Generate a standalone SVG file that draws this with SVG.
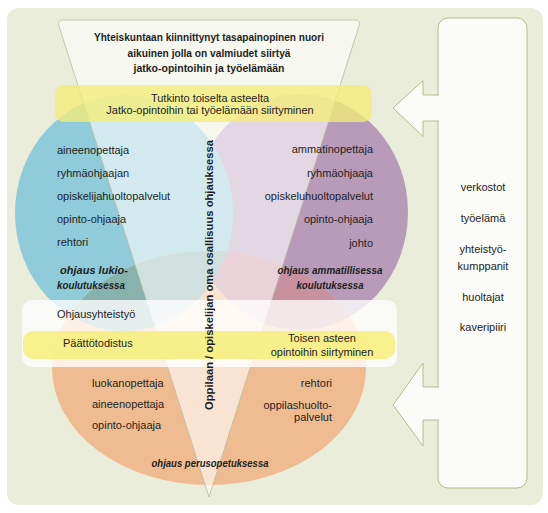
<svg xmlns="http://www.w3.org/2000/svg" width="548" height="513" viewBox="0 0 548 513">
<defs>
<style>
.t{font-family:"Liberation Sans",Arial,sans-serif;font-size:11px;fill:#1e1e1e}
.b{font-weight:bold}
.bi{font-weight:bold;font-style:italic;font-size:10.5px}
.m{text-anchor:middle}
.e{text-anchor:end}
.pn{fill:#fbfbf8;stroke:#b4bd8a;stroke-width:1}
</style>
<clipPath id="co"><ellipse cx="209" cy="368" rx="157" ry="117"/></clipPath>
</defs>
<rect x="7" y="8" width="536" height="497" rx="12" fill="#e9edda"/>
<g id="backdrop">
<ellipse cx="300" cy="212" rx="108" ry="118" fill="#b89bb9"/>
<ellipse cx="124" cy="213" rx="109" ry="118" fill="#8fcbd8"/>
<ellipse cx="209" cy="368" rx="157" ry="117" fill="#efbc91"/>
<g clip-path="url(#co)">
<ellipse cx="300" cy="212" rx="108" ry="118" fill="#c8919f"/>
<ellipse cx="124" cy="213" rx="109" ry="118" fill="#88b2ae"/>
</g>
<path d="M63,20 H355 Q361,20 359,26 L209,497 L59,26 Q57,20 63,20 Z" fill="#fff" fill-opacity="0.6" stroke="#b9bd9f" stroke-width="0.8"/>
</g>
<g id="goal">
<text class="t b m" x="209" y="41" textLength="230" lengthAdjust="spacingAndGlyphs">Yhteiskuntaan kiinnittynyt tasapainopinen nuori</text>
<text class="t b m" x="209" y="57" textLength="163" lengthAdjust="spacingAndGlyphs">aikuinen jolla on valmiudet siirtyä</text>
<text class="t b m" x="209" y="72" textLength="151" lengthAdjust="spacingAndGlyphs">jatko-opintoihin ja työelämään</text>
</g>
<g id="tutkinto">
<rect x="55" y="85" width="317" height="37" rx="9" fill="#f4ec78" fill-opacity="0.78"/>
<text class="t m" x="210" y="102">Tutkinto toiselta asteelta</text>
<text class="t m" x="210" y="114">Jatko-opintoihin tai työelämään siirtyminen</text>
</g>
<g id="ohjausyhteistyo">
<rect x="22" y="300" width="375" height="67" rx="10" fill="#fff" fill-opacity="0.78"/>
<rect x="23" y="331" width="372" height="28" rx="10" fill="#f6ee7e" fill-opacity="0.9"/>
<text class="t" x="57" y="318">Ohjausyhteistyö</text>
<text class="t" x="63" y="347">Päättötodistus</text>
<text class="t m" x="322" y="342">Toisen asteen</text>
<text class="t m" x="322" y="356">opintoihin siirtyminen</text>
</g>
<g id="lukio">
<text class="t" x="57" y="154">aineenopettaja</text>
<text class="t" x="57" y="177">ryhmäohjaajan</text>
<text class="t" x="57" y="200">opiskelijahuoltopalvelut</text>
<text class="t" x="57" y="223">opinto-ohjaaja</text>
<text class="t" x="57" y="246">rehtori</text>
<text class="t bi" x="60" y="274" textLength="68" lengthAdjust="spacingAndGlyphs">ohjaus lukio-</text>
<text class="t bi" x="57" y="289" textLength="68" lengthAdjust="spacingAndGlyphs">koulutuksessa</text>
</g>
<g id="ammatillinen">
<text class="t e" x="373" y="153">ammatinopettaja</text>
<text class="t e" x="373" y="177">ryhmäohjaaja</text>
<text class="t e" x="373" y="200">opiskeluhuoltopalvelut</text>
<text class="t e" x="373" y="223">opinto-ohjaaja</text>
<text class="t e" x="373" y="247">johto</text>
<text class="t bi m" x="330" y="274" textLength="105" lengthAdjust="spacingAndGlyphs">ohjaus ammatillisessa</text>
<text class="t bi m" x="330" y="289" textLength="67" lengthAdjust="spacingAndGlyphs">koulutuksessa</text>
</g>
<g id="perusopetus">
<text class="t" x="92" y="387">luokanopettaja</text>
<text class="t" x="92" y="408">aineenopettaja</text>
<text class="t" x="92" y="429">opinto-ohjaaja</text>
<text class="t e" x="332" y="387">rehtori</text>
<text class="t e" x="332" y="409">oppilashuolto-</text>
<text class="t e" x="332" y="421">palvelut</text>
<text class="t bi m" x="210" y="467" textLength="117" lengthAdjust="spacingAndGlyphs">ohjaus perusopetuksessa</text>
</g>
<g id="osallisuus">
<text class="t b m" transform="translate(213,275) rotate(-90)" textLength="270" lengthAdjust="spacingAndGlyphs">Oppilaan / opiskelijan oma osallisuus ohjauksessa</text>
</g>
<g id="verkostot">
<rect class="pn" x="438" y="18" width="89" height="470" rx="10"/>
<text class="t m" x="483" y="191">verkostot</text>
<text class="t m" x="483" y="222">työelämä</text>
<text class="t m" x="483" y="253">yhteistyö-</text>
<text class="t m" x="483" y="270">kumppanit</text>
<text class="t m" x="483" y="301">huoltajat</text>
<text class="t m" x="483" y="331">kaveripiiri</text>
</g>
<g id="connectors">
<path class="pn" d="M439,95 H423 V80.5 L393,108 L423,136.5 V121 H439"/>
<path class="pn" d="M439,387 H423 V363 L393,405 L423,446 V420 H439"/>
</g>
</svg>
